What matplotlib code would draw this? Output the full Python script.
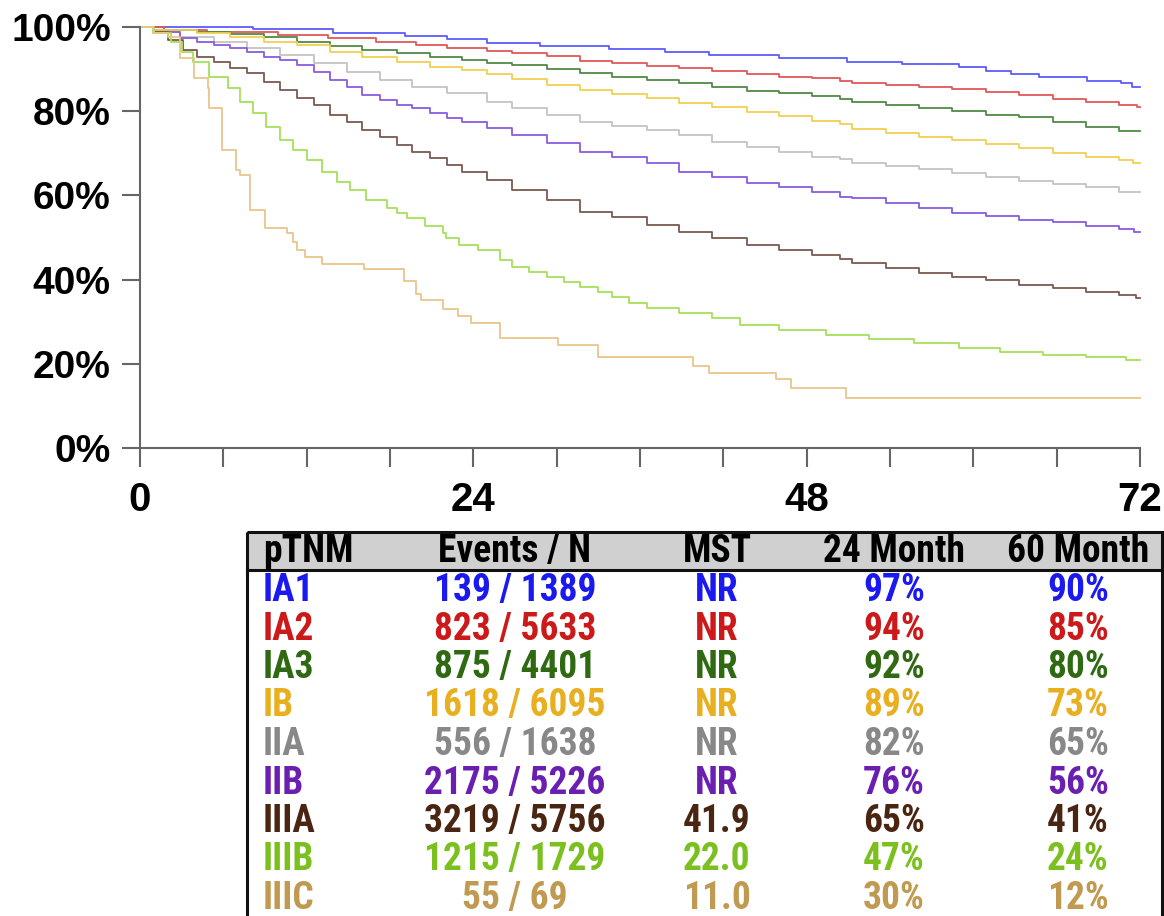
import matplotlib
matplotlib.use("Agg")
import matplotlib.pyplot as plt
from matplotlib.patches import Rectangle

# survival curves (months, % surviving)
ia1_t = [0, 8.1, 13.9, 19.1, 22.1, 25.0, 28.8, 33.8, 37.8, 41.0, 46.0, 50.9, 54.9, 59.0, 60.9, 62.7, 64.7, 68.2, 70.6, 71.4]
ia1_s = [100, 99.5, 98.6, 97.9, 97.1, 96.2, 95.5, 94.8, 94.1, 93.3, 92.6, 91.7, 91.2, 90.5, 89.5, 88.8, 88.1, 87.2, 86.7, 85.7]

ia2_t = [0, 1.7, 4.8, 9.9, 13.5, 17.0, 19.9, 22.1, 25.0, 26.8, 29.3, 31.7, 34.0, 36.5, 38.8, 41.2, 43.7, 46.0, 48.4, 50.4,
         51.3, 53.7, 56.1, 58.5, 60.9, 63.3, 65.7, 68.1, 70.5, 71.8]
ia2_s = [100, 99.3, 98.8, 98.1, 97.4, 96.4, 95.7, 95.0, 94.3, 93.8, 93.1, 91.9, 91.4, 90.7, 90.3, 89.5, 88.8, 88.1, 87.9, 87.2,
         86.7, 86.2, 85.7, 85.3, 84.6, 83.8, 82.9, 82.2, 81.5, 81.0]

ia3_t = [0, 1.0, 4.1, 6.5, 8.9, 11.3, 13.7, 16.0, 18.5, 20.9, 23.2, 25.0, 26.8, 29.3, 31.7, 34.0, 36.5, 38.8, 41.2, 43.7,
         46.0, 48.4, 50.4, 51.3, 53.7, 56.1, 58.5, 60.9, 63.3, 65.7, 68.1, 70.5]
ia3_s = [100, 99.3, 98.8, 98.3, 97.6, 96.4, 95.5, 94.5, 93.8, 92.9, 92.2, 91.4, 91.0, 90.0, 89.0, 88.1, 87.4, 86.7, 85.7, 84.8,
         84.3, 83.6, 82.9, 82.2, 81.5, 80.8, 80.0, 79.1, 78.6, 77.4, 76.2, 75.4]

ib_t = [0, 1.0, 4.1, 6.5, 8.9, 11.3, 13.7, 16.0, 18.5, 20.9, 23.2, 25.0, 26.8, 29.3, 31.7, 34.0, 36.5, 38.8, 41.2, 43.7,
        46.0, 48.4, 50.4, 51.3, 53.7, 56.1, 58.5, 60.9, 63.3, 65.7, 68.1, 70.5, 71.5]
ib_s = [100, 99.3, 98.6, 97.6, 96.4, 95.7, 94.1, 92.9, 91.7, 90.5, 89.8, 88.8, 87.6, 86.2, 85.0, 84.1, 83.1, 81.9, 81.0, 79.8,
        78.9, 77.7, 77.0, 75.8, 74.8, 73.9, 73.2, 72.2, 71.3, 70.1, 69.1, 68.4, 67.7]

iia_t = [0, 1.0, 2.9, 5.3, 7.7, 10.1, 12.5, 14.9, 17.3, 19.6, 22.1, 25.0, 26.8, 29.3, 31.7, 34.0, 36.5, 38.8, 41.2, 43.7,
         46.0, 48.4, 50.4, 51.3, 53.7, 56.1, 58.5, 60.9, 63.3, 65.7, 68.1, 70.5]
iia_s = [100, 98.8, 97.6, 96.4, 95.0, 93.3, 91.4, 89.3, 87.4, 85.7, 84.3, 82.2, 80.8, 79.1, 77.4, 76.5, 75.5, 74.3, 72.7, 71.5,
         70.3, 69.1, 68.6, 67.7, 67.0, 66.3, 65.3, 64.4, 63.4, 62.7, 62.0, 60.7]

iib_t = [0, 1.0, 2.9, 4.1, 5.3, 6.5, 7.7, 8.9, 10.1, 11.3, 12.5, 13.7, 14.9, 16.0, 17.3, 18.5, 19.6, 20.9, 22.1, 23.2,
         25.0, 26.8, 29.3, 31.7, 34.0, 36.5, 38.8, 41.2, 43.7, 46.0, 48.4, 50.4, 51.3, 53.7, 56.1, 58.5, 60.9, 63.3, 65.7,
         68.1, 70.5, 71.6]
iib_s = [100, 98.8, 97.4, 96.4, 95.7, 95.0, 94.1, 92.9, 92.2, 91.0, 89.3, 87.4, 85.7, 83.8, 82.7, 81.5, 80.8, 79.6, 78.4, 77.4,
         76.0, 74.3, 72.4, 70.3, 69.1, 67.7, 65.6, 64.4, 62.9, 62.0, 60.8, 59.6, 59.4, 58.2, 57.0, 55.8, 55.1, 54.2, 53.7,
         52.7, 52.0, 51.3]

iiia_t = [0, 1.0, 2.0, 3.1, 4.1, 5.3, 6.5, 7.7, 8.9, 10.1, 11.3, 12.5, 13.7, 14.9, 16.0, 17.3, 18.5, 19.6, 20.9, 22.1,
          23.2, 25.0, 26.8, 29.3, 31.7, 34.0, 36.5, 38.8, 41.2, 43.7, 46.0, 48.4, 50.4, 51.3, 53.7, 56.1, 58.5, 60.9, 63.3,
          65.7, 68.1, 70.5, 71.7]
iiia_s = [100, 98.8, 97.0, 94.5, 92.9, 91.7, 90.3, 89.0, 87.0, 85.0, 83.1, 81.5, 79.1, 77.4, 75.5, 73.9, 72.0, 70.3, 68.9, 67.2,
          65.6, 63.7, 61.3, 58.9, 56.1, 54.9, 53.0, 51.3, 49.9, 48.2, 47.0, 45.8, 44.9, 43.9, 42.8, 41.6, 40.7, 39.9, 38.7,
          38.0, 37.1, 36.3, 35.6]

iiib_t = [0, 0.9, 2.2, 3.0, 3.8, 5.0, 6.3, 7.2, 8.1, 9.1, 10.1, 11.0, 12.0, 13.1, 14.2, 15.1, 16.3, 17.8, 18.5, 19.2,
          20.5, 21.8, 22.0, 23.0, 24.3, 25.9, 26.8, 28.0, 29.3, 30.5, 31.7, 33.0, 34.0, 35.2, 36.5, 38.8, 41.2, 43.2, 46.0,
          49.4, 52.5, 55.7, 59.0, 61.9, 65.0, 68.1, 71.0]
iiib_s = [100, 98.6, 96.4, 94.0, 91.7, 88.1, 85.5, 82.2, 79.6, 76.2, 73.2, 70.8, 68.4, 65.6, 63.2, 61.3, 58.9, 57.0, 55.8, 54.6,
          52.8, 51.0, 49.8, 48.3, 47.0, 44.7, 43.0, 41.8, 40.6, 39.4, 38.2, 37.0, 35.9, 34.5, 33.2, 32.0, 30.9, 29.2, 28.0,
          26.8, 25.8, 24.9, 23.8, 22.8, 22.2, 21.6, 20.9]

iiic_t = [0, 1.0, 2.0, 2.9, 3.9, 4.9, 5.0, 5.9, 6.9, 7.2, 7.9, 9.0, 10.6, 11.0, 11.3, 11.9, 13.1, 16.1, 19.0, 19.9,
          20.2, 21.8, 22.9, 23.8, 25.9, 30.1, 33.0, 39.8, 41.0, 45.8, 46.9, 50.8]
iiic_s = [100, 98.5, 97.6, 92.6, 88.0, 85.5, 80.8, 70.8, 66.0, 64.8, 56.5, 52.3, 51.0, 48.9, 47.0, 45.4, 43.8, 42.5, 39.7, 36.6,
          35.2, 33.0, 31.4, 29.8, 26.1, 24.5, 21.6, 19.5, 17.8, 16.4, 14.3, 11.9]

# table contents
stages = ["IA1", "IA2", "IA3", "IB", "IIA", "IIB", "IIIA", "IIIB", "IIIC"]
events_n = ["139 / 1389", "823 / 5633", "875 / 4401", "1618 / 6095", "556 / 1638",
            "2175 / 5226", "3219 / 5756", "1215 / 1729", "55 / 69"]
mst = ["NR", "NR", "NR", "NR", "NR", "NR", "41.9", "22.0", "11.0"]
m24 = ["97%", "94%", "92%", "89%", "82%", "76%", "65%", "47%", "30%"]
m60 = ["90%", "85%", "80%", "73%", "65%", "56%", "41%", "24%", "12%"]
headers = ["pTNM", "Events / N", "MST", "24 Month", "60 Month"]

curves = [(ia1_t, ia1_s), (ia2_t, ia2_s), (ia3_t, ia3_s), (ib_t, ib_s), (iia_t, iia_s),
          (iib_t, iib_s), (iiia_t, iiia_s), (iiib_t, iiib_s), (iiic_t, iiic_s)]
line_colors = ["#5c5cff", "#e05858", "#4f8a45", "#f0d050", "#c4c4c4",
               "#8a5ce0", "#7a5a50", "#a6e05a", "#e8c68a"]
text_colors = ["#1a1af0", "#cc1a1a", "#2f6a12", "#e8b020", "#888888",
               "#6a1fb0", "#4a2612", "#7cc020", "#c09a50"]

plt.rcParams["font.family"] = ["Liberation Sans", "DejaVu Sans"]
narrow = ["Roboto Condensed", "DejaVu Sans"]

W, H = 1164, 916
fig = plt.figure(figsize=(W / 100, H / 100), dpi=100)
ax = fig.add_axes([140 / W, 1 - 448 / H, 1000 / W, 421 / H])

for (t, s), c in zip(curves, line_colors):
    ax.step(t + [72], s + [s[-1]], where="post", color=c, lw=1.3, clip_on=False)

ax.set_xlim(0, 72)
ax.set_ylim(0, 100)
for side in ["top", "right"]:
    ax.spines[side].set_visible(False)
for side in ["left", "bottom"]:
    ax.spines[side].set_color("#666666")
    ax.spines[side].set_linewidth(1.5)

ax.set_yticks([0, 20, 40, 60, 80, 100])
ax.set_yticklabels([f"{v}%" for v in [0, 20, 40, 60, 80, 100]], fontsize=28, fontweight="bold")
ax.set_xticks(range(0, 73, 6))
ax.set_xticklabels([str(v) if v % 24 == 0 else "" for v in range(0, 73, 6)], fontsize=29, fontweight="bold")
ax.tick_params(axis="y", length=13, width=1.5, color="#666666", pad=8)
ax.tick_params(axis="x", length=14, width=1.5, color="#666666", pad=10)

# table under the plot, in pixel coordinates
tab = fig.add_axes([0, 0, 1, 1])
tab.set_xlim(0, W)
tab.set_ylim(H, 0)
tab.axis("off")
tab.add_patch(Rectangle((247, 532), 915, 38, facecolor="#d0d0d0", edgecolor="none"))
tab.add_patch(Rectangle((247, 532), 915, 420, facecolor="none", edgecolor="#111111", lw=2.2))
tab.plot([247, 1162], [570, 570], color="#111111", lw=2.2)

col_x = [263, 515, 717, 894, 1078]
col_ha = ["left", "center", "center", "center", "center"]
for x, ha, h in zip(col_x, col_ha, headers):
    tab.text(x, 562, h, ha=ha, va="baseline", fontsize=27, fontweight="bold",
             family=narrow, color="black")

for i, c in enumerate(text_colors):
    y = 601 + 38.5 * i
    row = [stages[i], events_n[i], mst[i], m24[i], m60[i]]
    for x, ha, v in zip(col_x, col_ha, row):
        tab.text(x, y, v, ha=ha, va="baseline", fontsize=27, fontweight="bold",
                 family=narrow, color=c)

fig.savefig("out.png", dpi=100)
